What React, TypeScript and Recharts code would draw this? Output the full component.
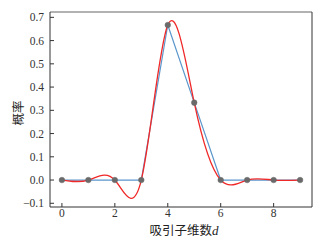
import React from 'react';
import { LineChart, Line, XAxis, YAxis, ReferenceLine } from 'recharts';

const dims = [0, 1, 2, 3, 4, 5, 6, 7, 8, 9];
const probs = [0, 0, 0, 0, 0.667, 0.333, 0, 0, 0, 0];
const xTicks = [0, 2, 4, 6, 8];
const yTicks = [-0.1, 0, 0.1, 0.2, 0.3, 0.4, 0.5, 0.6, 0.7];
const xDomain = [-0.45, 9.45];
const yDomain = [-0.116, 0.723];

const data = dims.map((d, i) => ({ d, p: probs[i] }));

const XLabel = (props: any) => {
  const vb = props.viewBox || {};
  const cx = vb.x + vb.width / 2 + 3;
  return (
    <text x={cx} y={235} textAnchor="middle" fontSize={12.5} fill="#222"
      fontFamily="'Noto Sans CJK SC', 'Liberation Serif', serif">
      吸引子维数<tspan fontStyle="italic" fontFamily="'Liberation Serif', serif" fontSize={13}>d</tspan>
    </text>
  );
};

const YLabel = () => {
  const x = 17;
  const y = 113;
  return (
    <text x={x} y={y} textAnchor="middle" dominantBaseline="central" fontSize={12.5} fill="#222"
      fontFamily="'Noto Sans CJK SC', serif" transform={`rotate(-90 ${x} ${y})`}>
      概率
    </text>
  );
};

const fmt = (v: number) => (v < 0 ? '\u2212' + Math.abs(v).toFixed(1) : v.toFixed(1));

export default function App() {
  const tickStyle = { fontSize: 11.5, fill: '#333', fontFamily: "'Liberation Serif', serif" };
  return (
    <div style={{ position: 'absolute', left: 0, top: 0, width: 329, height: 241, background: '#fff' }}>
      <LineChart width={329} height={241} data={data}
        margin={{ top: 12, right: 17, bottom: 0, left: 0 }}>
        <XAxis xAxisId="b" dataKey="d" type="number" domain={xDomain} ticks={xTicks}
          allowDataOverflow height={34} tickSize={-4} tickMargin={6}
          axisLine={{ stroke: '#333', strokeWidth: 1 }} tickLine={{ stroke: '#333' }}
          tick={tickStyle} label={<XLabel />} />
        <YAxis yAxisId="l" type="number" domain={yDomain} ticks={yTicks} allowDataOverflow
          width={50} tickSize={-4} tickMargin={10} tickFormatter={fmt}
          axisLine={{ stroke: '#333', strokeWidth: 1 }} tickLine={{ stroke: '#333' }}
          tick={tickStyle} label={<YLabel />} />
        <ReferenceLine xAxisId="b" yAxisId="l" y={yDomain[1]} stroke="#999" strokeWidth={1.6} />
        <ReferenceLine xAxisId="b" yAxisId="l" x={xDomain[1]} stroke="#333" strokeWidth={1} />
        <Line xAxisId="b" yAxisId="l" dataKey="p" type="linear" stroke="#5b96cc" strokeWidth={1.2}
          dot={false} isAnimationActive={false} />
        <Line xAxisId="b" yAxisId="l" dataKey="p" type="natural" stroke="#f02828" strokeWidth={1.3}
          dot={false} isAnimationActive={false} />
        <Line xAxisId="b" yAxisId="l" dataKey="p" type="linear" stroke="none"
          dot={{ r: 2.8, fill: '#6a6a6a', stroke: '#6a6a6a', strokeWidth: 0.5 }}
          isAnimationActive={false} />
      </LineChart>
    </div>
  );
}
